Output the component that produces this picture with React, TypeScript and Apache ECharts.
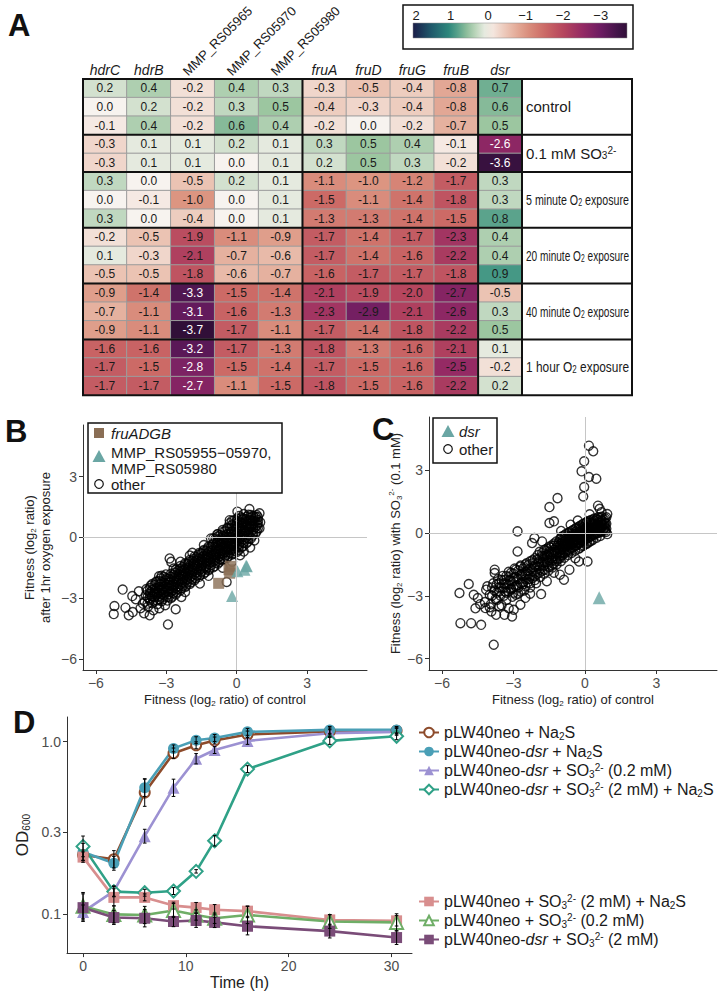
import React, { useEffect, useRef } from 'react';
import * as echarts from 'echarts';

const FONT = "'Liberation Sans', Arial, Helvetica, sans-serif";

// ---------------- Panel A: fitness heatmap ----------------
const GENES = ['hdrC', 'hdrB', 'MMP_RS05965', 'MMP_RS05970', 'MMP_RS05980', 'fruA', 'fruD', 'fruG', 'fruB', 'dsr'];
const GENE_ITALIC = [true, true, false, false, false, true, true, true, true, true];
const CONDITION_LABELS = [
  'control',
  '0.1 mM SO{sub|3}{sup|2-}',
  '5 minute O{sub|2} exposure',
  '20 minute O{sub|2} exposure',
  '40 minute O{sub|2} exposure',
  '1 hour O{sub|2} exposure',
];
const FIT_CONTROL = [
  [0.2, 0.4, -0.2, 0.4, 0.3, -0.3, -0.5, -0.4, -0.8, 0.7],
  [0.0, 0.2, -0.2, 0.3, 0.5, -0.4, -0.3, -0.4, -0.8, 0.6],
  [-0.1, 0.4, -0.2, 0.6, 0.4, -0.2, 0.0, -0.2, -0.7, 0.5],
];
const FIT_SULFITE = [
  [-0.3, 0.1, 0.1, 0.2, 0.1, 0.3, 0.5, 0.4, -0.1, -2.6],
  [-0.3, 0.1, 0.1, 0.0, 0.1, 0.2, 0.5, 0.3, -0.2, -3.6],
];
const FIT_O2_5MIN = [
  [0.3, 0.0, -0.5, 0.2, 0.1, -1.1, -1.0, -1.2, -1.7, 0.3],
  [0.0, -0.1, -1.0, 0.0, 0.1, -1.5, -1.1, -1.4, -1.8, 0.3],
  [0.3, 0.0, -0.4, 0.0, 0.1, -1.3, -1.3, -1.4, -1.5, 0.8],
];
const FIT_O2_20MIN = [
  [-0.2, -0.5, -1.9, -1.1, -0.9, -1.7, -1.4, -1.7, -2.3, 0.4],
  [0.1, -0.3, -2.1, -0.7, -0.6, -1.7, -1.4, -1.6, -2.2, 0.4],
  [-0.5, -0.5, -1.8, -0.6, -0.7, -1.6, -1.7, -1.7, -1.8, 0.9],
];
const FIT_O2_40MIN = [
  [-0.9, -1.4, -3.3, -1.5, -1.4, -2.1, -1.9, -2.0, -2.7, -0.5],
  [-0.7, -1.1, -3.1, -1.6, -1.3, -2.3, -2.9, -2.1, -2.6, 0.3],
  [-0.9, -1.1, -3.7, -1.7, -1.1, -1.7, -1.4, -1.8, -2.2, 0.5],
];
const FIT_O2_1H = [
  [-1.6, -1.6, -3.2, -1.7, -1.3, -1.8, -1.3, -1.6, -2.1, 0.1],
  [-1.7, -1.5, -2.8, -1.5, -1.4, -1.7, -1.5, -1.6, -2.5, -0.2],
  [-1.7, -1.7, -2.7, -1.1, -1.5, -1.8, -1.5, -1.6, -2.2, 0.2],
];
const CONDITION_VALUES = [FIT_CONTROL, FIT_SULFITE, FIT_O2_5MIN, FIT_O2_20MIN, FIT_O2_40MIN, FIT_O2_1H];

// colour scale from -4 to 2, stops every 0.5
const SCALE_MIN = -4;
const SCALE_MAX = 2;
const SCALE_COLORS = [
  '#1e0822', '#3e1346', '#6c1c62', '#952a64', '#b6465e', '#cc6a66', '#dc9581',
  '#ebc3b3', '#f7f3ef', '#9cc6a0', '#2f8c7e', '#1f5b6c', '#1a1d48',
];
const COLORBAR_TICKS = [2, 1, 0, -1, -2, -3];
const COLORBAR_RANGE = [2, -3.7];
const WHITE_TEXT_GENES = ['MMP_RS05965', 'dsr'];

// ---------------- Panel B / C scatter ----------------
const B_OTHER = [
  [-3.92, -3.18], [-3.88, -2.86], [-3.85, -2.55], [-3.78, -3.42], [-3.72, -3.02], [-3.69, -2.71], [-3.66, -2.38],
  [-3.55, -3.12], [-3.52, -2.79], [-3.48, -2.51], [-3.45, -2.2], [-3.38, -3.3], [-3.33, -2.93], [-3.3, -2.62], [-3.27, -2.31], [-3.24, -2.02],
  [-3.15, -3.05], [-3.12, -2.72], [-3.08, -2.44], [-3.05, -2.12], [-3.02, -1.83], [-2.95, -3.12], [-2.91, -2.81], [-2.88, -2.52], [-2.86, -2.21], [-2.82, -1.95],
  [-2.75, -2.93], [-2.72, -2.61], [-2.69, -2.33], [-2.66, -2.04], [-2.63, -1.74], [-2.55, -2.72], [-2.52, -2.42], [-2.49, -2.13], [-2.46, -1.82], [-2.42, -1.55],
  [-2.35, -2.51], [-2.32, -2.22], [-2.29, -1.93], [-2.26, -1.64], [-2.22, -1.36], [-2.15, -2.39], [-2.12, -2.08], [-2.09, -1.79], [-2.06, -1.51], [-2.03, -1.22],
  [-1.95, -2.21], [-1.92, -1.9], [-1.89, -1.62], [-1.86, -1.33], [-1.83, -1.05], [-1.75, -2.02], [-1.72, -1.73], [-1.69, -1.44], [-1.66, -1.16], [-1.63, -0.86],
  [-1.55, -1.84], [-1.52, -1.55], [-1.49, -1.26], [-1.46, -0.97], [-1.43, -0.68], [-1.35, -1.72], [-1.32, -1.43], [-1.29, -1.12], [-1.26, -0.83], [-1.23, -0.54],
  [-1.15, -1.55], [-1.12, -1.24], [-1.09, -0.95], [-1.06, -0.66], [-1.03, -0.37], [-0.95, -1.42], [-0.92, -1.13], [-0.89, -0.82], [-0.86, -0.53], [-0.83, -0.24], [-0.8, 0.05],
  [-0.75, -1.22], [-0.72, -0.93], [-0.69, -0.62], [-0.66, -0.33], [-0.63, -0.04], [-0.6, 0.27], [-0.55, -1.05], [-0.52, -0.74], [-0.49, -0.43], [-0.46, -0.14], [-0.43, 0.17], [-0.4, 0.47],
  [-0.35, -0.92], [-0.32, -0.61], [-0.29, -0.31], [-0.26, -0.02], [-0.23, 0.29], [-0.2, 0.58], [-0.15, -0.81], [-0.12, -0.52], [-0.09, -0.21], [-0.06, 0.11], [-0.03, 0.41], [0.0, 0.7], [0.02, 0.93],
  [0.08, -0.63], [0.11, -0.32], [0.14, -0.02], [0.17, 0.31], [0.2, 0.6], [0.23, 0.88], [0.28, -0.42], [0.31, -0.11], [0.34, 0.19], [0.37, 0.49], [0.4, 0.79], [0.43, 1.02],
  [0.48, -0.21], [0.51, 0.1], [0.54, 0.41], [0.57, 0.69], [0.6, 0.98], [0.68, 0.08], [0.71, 0.39], [0.74, 0.68], [0.77, 0.95], [0.85, 0.31], [0.88, 0.62], [0.9, 0.86],
  [-0.62, -0.78], [-0.41, -0.58], [-0.22, -0.4], [-0.05, -0.3], [0.05, 0.05], [0.15, 0.45], [0.25, 0.68], [0.35, 0.35], [0.45, 0.6], [0.62, 0.55], [0.66, 0.82], [0.02, -0.05],
  [-0.18, 0.12], [-0.38, -0.2], [-0.58, -0.45], [-0.78, -0.6], [-0.98, -0.85], [-1.18, -0.98], [-1.38, -1.05], [-1.58, -1.2], [-1.78, -1.38], [-1.98, -1.62], [-2.18, -1.75],
  [-2.38, -1.9], [-2.58, -2.1], [-2.78, -2.35], [-2.98, -2.48], [-3.18, -2.6], [-3.4, -2.75], [-3.6, -2.9],
  [-3.8, -3.27], [-3.8, -2.95], [-3.8, -2.62], [-3.6, -3.25], [-3.6, -2.92], [-3.6, -2.6], [-3.6, -2.3], [-3.4, -3.12], [-3.4, -2.82], [-3.4, -2.5], [-3.4, -2.18],
  [-3.2, -3.15], [-3.2, -2.82], [-3.2, -2.52], [-3.2, -2.2], [-3.2, -1.9], [-3.0, -2.95], [-3.0, -2.64], [-3.0, -2.33], [-3.0, -2.02],
  [-2.8, -3.0], [-2.8, -2.68], [-2.8, -2.38], [-2.8, -2.08], [-2.8, -1.8], [-2.6, -2.82], [-2.6, -2.5], [-2.6, -2.2], [-2.6, -1.9], [-2.6, -1.6],
  [-2.4, -2.62], [-2.4, -2.32], [-2.4, -2.02], [-2.4, -1.7], [-2.4, -1.42], [-2.2, -2.45], [-2.2, -2.15], [-2.2, -1.85], [-2.2, -1.55], [-2.2, -1.28],
  [-2.0, -2.3], [-2.0, -2.0], [-2.0, -1.7], [-2.0, -1.4], [-2.0, -1.12], [-1.8, -2.12], [-1.8, -1.82], [-1.8, -1.52], [-1.8, -1.22], [-1.8, -0.94],
  [-1.6, -1.95], [-1.6, -1.65], [-1.6, -1.35], [-1.6, -1.05], [-1.6, -0.77], [-1.4, -1.8], [-1.4, -1.5], [-1.4, -1.2], [-1.4, -0.9], [-1.4, -0.62],
  [-1.2, -1.62], [-1.2, -1.32], [-1.2, -1.02], [-1.2, -0.72], [-1.2, -0.45], [-1.0, -1.48], [-1.0, -1.18], [-1.0, -0.88], [-1.0, -0.58], [-1.0, -0.3], [-1.0, -0.05],
  [-0.8, -1.3], [-0.8, -1.0], [-0.8, -0.7], [-0.8, -0.4], [-0.8, -0.12], [-0.8, 0.16], [-0.6, -1.12], [-0.6, -0.85], [-0.6, -0.55], [-0.6, -0.25], [-0.6, 0.06], [-0.6, 0.36],
  [-0.4, -1.0], [-0.4, -0.72], [-0.4, -0.45], [-0.4, -0.15], [-0.4, 0.14], [-0.4, 0.44], [-0.2, -0.85], [-0.2, -0.6], [-0.2, -0.3], [-0.2, 0.0], [-0.2, 0.3], [-0.2, 0.62], [-0.2, 0.82],
  [0.0, -0.72], [0.0, -0.42], [0.0, -0.12], [0.0, 0.2], [0.0, 0.5], [0.0, 0.8], [0.2, -0.5], [0.2, -0.2], [0.2, 0.1], [0.2, 0.42], [0.2, 0.72], [0.2, 0.98],
  [0.4, -0.3], [0.4, 0.0], [0.4, 0.3], [0.4, 0.62], [0.4, 0.9], [0.6, -0.05], [0.6, 0.25], [0.6, 0.55], [0.6, 0.84], [0.6, 1.1], [0.8, 0.2], [0.8, 0.5], [0.8, 0.78], [0.8, 1.02],
  [-3.7, -3.1], [-3.7, -2.8], [-3.7, -2.5], [-3.5, -2.95], [-3.5, -2.65], [-3.5, -2.35], [-3.3, -3.05], [-3.3, -2.75], [-3.3, -2.45], [-3.3, -2.15],
  [-3.1, -2.85], [-3.1, -2.55], [-3.1, -2.25], [-3.1, -1.95], [-2.9, -2.95], [-2.9, -2.65], [-2.9, -2.35], [-2.9, -2.05],
  [-2.7, -2.75], [-2.7, -2.45], [-2.7, -2.15], [-2.7, -1.85], [-2.5, -2.55], [-2.5, -2.25], [-2.5, -1.95], [-2.5, -1.65],
  [-2.3, -2.4], [-2.3, -2.08], [-2.3, -1.78], [-2.3, -1.48], [-2.1, -2.22], [-2.1, -1.92], [-2.1, -1.62], [-2.1, -1.32],
  [-1.9, -2.05], [-1.9, -1.75], [-1.9, -1.45], [-1.9, -1.15], [-1.7, -1.88], [-1.7, -1.58], [-1.7, -1.28], [-1.7, -0.98],
  [-1.5, -1.7], [-1.5, -1.4], [-1.5, -1.1], [-1.5, -0.8], [-1.3, -1.55], [-1.3, -1.25], [-1.3, -0.95], [-1.3, -0.65],
  [-1.1, -1.38], [-1.1, -1.08], [-1.1, -0.78], [-1.1, -0.48], [-0.9, -1.25], [-0.9, -0.95], [-0.9, -0.65], [-0.9, -0.35], [-0.9, -0.05],
  [-0.7, -1.08], [-0.7, -0.78], [-0.7, -0.48], [-0.7, -0.18], [-0.7, 0.12], [-0.5, -0.9], [-0.5, -0.6], [-0.5, -0.3], [-0.5, 0.0], [-0.5, 0.3],
  [-0.3, -0.75], [-0.3, -0.45], [-0.3, -0.15], [-0.3, 0.15], [-0.3, 0.45], [-0.3, 0.7], [-0.1, -0.65], [-0.1, -0.35], [-0.1, -0.05], [-0.1, 0.25], [-0.1, 0.55], [-0.1, 0.85],
  [0.1, -0.45], [0.1, -0.15], [0.1, 0.15], [0.1, 0.45], [0.1, 0.75], [0.1, 1.05], [0.3, -0.25], [0.3, 0.05], [0.3, 0.35], [0.3, 0.65], [0.3, 0.92],
  [0.5, -0.05], [0.5, 0.25], [0.5, 0.55], [0.5, 0.85], [0.5, 1.12], [0.7, 0.22], [0.7, 0.52], [0.7, 0.82], [0.7, 1.05], [0.9, 0.45], [0.9, 0.72], [0.9, 1.0],
  [-4.86, -2.58], [-5.21, -3.39], [-5.24, -3.79], [-4.74, -3.47], [-4.6, -3.85], [-4.43, -3.69], [-4.17, -2.66], [-3.71, -3.85], [-2.93, -4.3], [-2.6, -3.55],
  [-2.86, -1.04], [-2.79, -1.21], [-2.69, -1.54], [-3.31, -1.92], [-1.89, -0.76], [-1.4, -0.38], [-0.83, 0.15], [0.03, 1.27], [0.54, 1.4], [0.97, 1.19],
  [0.97, 0.45], [0.57, -0.5], [0.14, -0.88], [-1.57, -2.28], [-0.43, -2.2], [-2.36, -2.94], [-4.0, -3.27],
  [-4.3, -3.05], [-4.1, -3.5], [-3.95, -3.75], [-3.55, -3.6], [-4.45, -2.9], [-3.3, -3.5], [-3.05, -3.35], [-2.2, -2.7], [-1.2, -1.9], [-0.6, -1.5],
  [-0.2, -1.2], [0.3, -0.7], [0.75, -0.15], [1.0, 0.75], [0.85, 1.1], [0.3, 1.15], [-0.3, 0.85], [-1.1, -0.05], [-2.0, -0.9], [-2.4, -1.2],
];
const B_FRU = [[-0.3, -1.77], [-0.27, -1.43], [-0.33, -1.6], [-0.77, -2.27]];
const B_MMP = [[0.03, -1.67], [0.33, -1.6], [-0.2, -2.9], [0.43, -1.43], [0.4, -1.4]];

const C_OTHER = [
  [-4.2, -3.3], [-4.1, -2.55], [-4.0, -2.95], [-3.95, -3.4], [-3.85, -2.4], [-3.8, -2.75], [-3.75, -3.15], [-3.65, -2.2], [-3.6, -2.6], [-3.55, -3.0],
  [-3.5, -3.45], [-3.45, -2.05], [-3.4, -2.4], [-3.35, -2.8], [-3.3, -3.2], [-3.2, -1.85], [-3.15, -2.25], [-3.1, -2.65], [-3.05, -3.05], [-2.95, -1.7],
  [-2.9, -2.1], [-2.85, -2.5], [-2.8, -2.9], [-2.7, -1.55], [-2.65, -1.95], [-2.6, -2.35], [-2.55, -2.75], [-2.45, -1.45], [-2.4, -1.8], [-2.35, -2.2],
  [-2.3, -2.6], [-2.2, -1.3], [-2.15, -1.65], [-2.1, -2.05], [-2.05, -2.4],
  [-1.98, -1.05], [-1.95, -1.4], [-1.92, -1.75], [-1.88, -2.1], [-1.8, -0.95], [-1.77, -1.28], [-1.74, -1.6], [-1.71, -1.95], [-1.62, -0.85], [-1.59, -1.15],
  [-1.56, -1.48], [-1.53, -1.8], [-1.45, -0.7], [-1.42, -1.0], [-1.39, -1.32], [-1.36, -1.65], [-1.28, -0.6], [-1.25, -0.9], [-1.22, -1.2], [-1.19, -1.5],
  [-1.1, -0.45], [-1.07, -0.75], [-1.04, -1.05], [-1.01, -1.35],
  [-0.95, -0.35], [-0.92, -0.62], [-0.89, -0.9], [-0.86, -1.18], [-0.8, -0.25], [-0.77, -0.52], [-0.74, -0.8], [-0.71, -1.05], [-0.65, -0.15], [-0.62, -0.42],
  [-0.59, -0.7], [-0.56, -0.95], [-0.5, -0.05], [-0.47, -0.32], [-0.44, -0.6], [-0.41, -0.85], [-0.35, 0.08], [-0.32, -0.2], [-0.29, -0.48], [-0.26, -0.75],
  [-0.2, 0.2], [-0.17, -0.08], [-0.14, -0.36], [-0.11, -0.62], [-0.05, 0.3], [-0.02, 0.02], [0.01, -0.26], [0.04, -0.52], [0.1, 0.4], [0.13, 0.12],
  [0.16, -0.16], [0.19, -0.42], [0.25, 0.5], [0.28, 0.22], [0.31, -0.06], [0.34, -0.32], [0.4, 0.58], [0.43, 0.3], [0.46, 0.02], [0.49, -0.22],
  [0.55, 0.62], [0.58, 0.36], [0.61, 0.1], [0.64, -0.14], [0.7, 0.6], [0.73, 0.38], [0.76, 0.14], [0.82, 0.5], [0.85, 0.26], [0.88, 0.05],
  [-0.9, -0.5], [-0.7, -0.3], [-0.5, -0.5], [-0.3, -0.1], [-0.1, 0.1], [0.05, -0.1], [0.2, 0.25], [0.35, 0.15], [0.5, 0.4], [0.65, 0.25],
  [0.3, 0.45], [-0.15, -0.25], [-0.6, -0.55], [-1.3, -1.1], [-1.5, -0.9], [-1.7, -1.4], [-2.5, -2.0], [-3.0, -2.3], [-3.7, -2.85],
  [-3.9, -2.6], [-3.9, -3.0], [-3.7, -2.45], [-3.7, -3.2], [-3.5, -2.25], [-3.5, -2.62], [-3.3, -2.05], [-3.3, -2.45], [-3.3, -2.85],
  [-3.1, -1.9], [-3.1, -2.3], [-3.1, -2.7], [-2.9, -1.75], [-2.9, -2.55], [-2.9, -2.95], [-2.7, -1.6], [-2.7, -2.0], [-2.7, -2.4], [-2.7, -2.8],
  [-2.5, -1.5], [-2.5, -1.85], [-2.5, -2.2], [-2.5, -2.55], [-2.3, -1.35], [-2.3, -1.7], [-2.3, -2.05], [-2.3, -2.4], [-2.1, -1.2], [-2.1, -1.55], [-2.1, -1.9], [-2.1, -2.25],
  [-1.9, -0.9], [-1.9, -1.22], [-1.9, -1.55], [-1.9, -1.9], [-1.7, -0.8], [-1.7, -1.1], [-1.7, -1.75], [-1.5, -0.65], [-1.5, -0.98], [-1.5, -1.3], [-1.5, -1.62],
  [-1.3, -0.5], [-1.3, -0.8], [-1.3, -1.45], [-1.15, -0.6], [-1.15, -0.92], [-1.15, -1.25], [-1.0, -0.2], [-1.0, -0.5], [-1.0, -0.8], [-1.0, -1.1],
  [-0.85, -0.1], [-0.85, -0.4], [-0.85, -0.7], [-0.85, -0.98], [-0.7, 0.0], [-0.7, -0.58], [-0.7, -0.88], [-0.55, 0.1], [-0.55, -0.18], [-0.55, -0.45], [-0.55, -0.75],
  [-0.4, 0.22], [-0.4, -0.05], [-0.4, -0.35], [-0.4, -0.62], [-0.25, 0.3], [-0.25, 0.05], [-0.25, -0.22], [-0.25, -0.5], [-0.1, 0.42], [-0.1, 0.15], [-0.1, -0.12], [-0.1, -0.4],
  [0.05, 0.5], [0.05, 0.25], [0.05, -0.3], [0.2, 0.58], [0.2, 0.06], [0.2, -0.2], [0.35, 0.65], [0.35, 0.42], [0.35, -0.1],
  [0.5, 0.68], [0.5, 0.22], [0.5, -0.02], [0.65, 0.72], [0.65, 0.5], [0.65, 0.05], [0.8, 0.65], [0.8, 0.4], [0.8, 0.18], [0.9, 0.45], [0.9, 0.2],
  [-1.6, -0.75], [-1.6, -1.05], [-1.6, -1.4], [-1.4, -0.6], [-1.4, -0.9], [-1.4, -1.2], [-1.4, -1.55], [-1.2, -0.4], [-1.2, -0.7], [-1.2, -1.0], [-1.2, -1.35],
  [-1.05, -0.3], [-1.05, -0.62], [-1.05, -0.95], [-1.05, -1.2], [-0.95, -0.15], [-0.95, -0.45], [-0.95, -0.75], [-0.95, -1.05],
  [-0.8, -0.05], [-0.8, -0.35], [-0.8, -0.62], [-0.8, -0.9], [-0.65, 0.05], [-0.65, -0.25], [-0.65, -0.5], [-0.65, -0.8],
  [-0.5, 0.15], [-0.5, -0.12], [-0.5, -0.4], [-0.5, -0.68], [-0.35, 0.25], [-0.35, -0.02], [-0.35, -0.3], [-0.35, -0.58],
  [-0.2, 0.35], [-0.2, 0.08], [-0.2, -0.18], [-0.2, -0.45], [-0.2, -0.7], [-0.05, 0.45], [-0.05, 0.18], [-0.05, -0.08], [-0.05, -0.35], [-0.05, -0.6],
  [0.1, 0.55], [0.1, 0.28], [0.1, 0.0], [0.1, -0.25], [0.1, -0.5], [0.25, 0.62], [0.25, 0.36], [0.25, 0.1], [0.25, -0.15], [0.25, -0.38],
  [0.4, 0.7], [0.4, 0.45], [0.4, 0.18], [0.4, -0.05], [0.55, 0.75], [0.55, 0.5], [0.55, 0.25], [0.55, 0.0],
  [0.7, 0.78], [0.7, 0.52], [0.7, 0.3], [0.7, 0.08], [0.85, 0.7], [0.85, 0.45], [0.85, 0.12],
  [-3.6, -2.4], [-3.6, -2.8], [-3.4, -2.25], [-3.4, -2.62], [-3.4, -3.0], [-3.2, -2.1], [-3.2, -2.45], [-3.2, -2.8],
  [-3.0, -1.95], [-3.0, -2.15], [-3.0, -2.6], [-3.0, -2.85], [-2.8, -1.8], [-2.8, -2.2], [-2.8, -2.6], [-2.6, -1.7], [-2.6, -2.05], [-2.6, -2.45],
  [-2.4, -1.55], [-2.4, -1.95], [-2.4, -2.35], [-2.2, -1.45], [-2.2, -1.8], [-2.2, -2.15], [-2.0, -1.25], [-2.0, -1.6], [-2.0, -1.95], [-1.8, -1.1], [-1.8, -1.45], [-1.8, -1.8],
  [0.17, 4.18], [0.35, 3.91], [-0.03, 3.43], [-0.14, 2.95], [0.17, 2.68], [0.48, 2.6], [-0.03, 2.2], [-0.07, 1.75], [-1.15, 1.67], [-1.49, 1.24],
  [0.55, 1.31], [0.62, 1.16], [0.94, 0.91], [-2.83, 0.08], [-2.83, -0.88], [-2.22, -0.48], [-2.12, -0.24], [-1.49, 0.48], [-1.3, 0.56], [-3.79, -1.75],
  [-3.79, -1.91], [-4.88, -2.44], [-5.27, -2.87], [-4.67, -2.95], [-4.5, -3.11], [-4.15, -2.71], [-5.23, -4.31], [-4.78, -4.31], [-4.36, -4.39], [-3.83, -5.34],
  [-4.18, -3.59], [-3.93, -3.75], [-3.73, -3.91], [-3.38, -3.91], [-3.06, -3.99], [-2.99, -3.67], [-2.71, -3.43], [-1.84, -2.92], [-1.05, -1.99], [-0.88, -2.23],
  [-0.65, -1.75], [-0.25, -1.36], [0.11, -1.36], [0.94, -0.05],
  [-4.4, -3.4], [-4.6, -3.6], [-4.0, -3.55], [-3.6, -3.5], [-3.2, -3.6], [-2.5, -3.1], [-2.3, -2.9], [-1.6, -2.3], [-1.3, -1.9], [-0.4, -1.2],
  [-1.8, -0.4], [-1.0, 0.1], [-0.6, 0.4], [-0.3, 0.6], [0.2, 0.9], [0.7, 1.0], [0.9, 0.75],
];
const C_DSR = [[0.6, -3.1]];
const FITNESS_TICKS = [-6, -3, 0, 3];
const FITNESS_RANGE = [-6.55, 5.55];

// ---------------- Panel D: growth curves ----------------
const TIME_H = [0, 3, 6, 8.8, 11, 12.8, 16, 24, 30.5];
const OD_EMPTY_NA2S = [0.22, 0.208, 0.507, 0.857, 0.953, 1.016, 1.1, 1.146, 1.157];
const OD_DSR_NA2S = [0.229, 0.197, 0.54, 0.914, 1.02, 1.05, 1.14, 1.17, 1.17];
const OD_DSR_SO3_LOW = [0.103, 0.136, 0.283, 0.54, 0.796, 0.894, 1.01, 1.12, 1.14];
const OD_DSR_SO3_HIGH_NA2S = [0.247, 0.135, 0.133, 0.136, 0.177, 0.266, 0.693, 1.01, 1.075];
const OD_EMPTY_SO3_HIGH_NA2S = [0.214, 0.125, 0.125, 0.112, 0.109, 0.106, 0.104, 0.0925, 0.0914];
const OD_EMPTY_SO3_LOW = [0.111, 0.0996, 0.0988, 0.105, 0.0988, 0.0946, 0.0988, 0.0906, 0.0895];
const OD_DSR_SO3_HIGH = [0.109, 0.0955, 0.0946, 0.0906, 0.0918, 0.0895, 0.085, 0.0797, 0.0731];
// error half-widths, log10 units
const ERR_EMPTY_NA2S = [0.03, 0.05, 0.08, 0.03, 0.02, 0.02, 0.02, 0.02, 0.02];
const ERR_DSR_NA2S = [0.05, 0.04, 0.05, 0.02, 0.02, 0.02, 0.02, 0.02, 0.02];
const ERR_DSR_SO3_LOW = [0.04, 0.03, 0.04, 0.05, 0.03, 0.02, 0.02, 0.02, 0.02];
const ERR_DSR_SO3_HIGH_NA2S = [0.06, 0.03, 0.02, 0.02, 0.01, 0.03, 0.02, 0.02, 0.02];
const ERR_EMPTY_SO3_HIGH_NA2S = [0.03, 0.05, 0.02, 0.02, 0.03, 0.03, 0.03, 0.03, 0.03];
const ERR_EMPTY_SO3_LOW = [0.08, 0.05, 0.05, 0.04, 0.03, 0.03, 0.05, 0.04, 0.05];
const ERR_DSR_SO3_HIGH = [0.08, 0.04, 0.05, 0.03, 0.04, 0.03, 0.05, 0.04, 0.04];
const OD_TICKS = [0.1, 0.3, 1.0];
const TIME_TICKS = [0, 10, 20, 30];
const OD_RANGE = [0.0594, 1.39];
const TIME_RANGE = [-1.56, 32];

const D_SERIES = [
  { name: 'pLW40neo + Na2S', label: 'pLW40neo + Na{sub|2}S', od: OD_EMPTY_NA2S, err: ERR_EMPTY_NA2S, color: '#8d4b2b', symbol: 'emptyCircle', size: 10 },
  { name: 'pLW40neo-dsr + Na2S', label: 'pLW40neo-{i|dsr} + Na{sub|2}S', od: OD_DSR_NA2S, err: ERR_DSR_NA2S, color: '#4a9fb6', symbol: 'circle', size: 11 },
  { name: 'pLW40neo-dsr + SO3 (0.2 mM)', label: 'pLW40neo-{i|dsr} + SO{sub|3}{sup|2-} (0.2 mM)', od: OD_DSR_SO3_LOW, err: ERR_DSR_SO3_LOW, color: '#9c91d2', symbol: 'triangle', size: 12 },
  { name: 'pLW40neo-dsr + SO3 (2 mM) + Na2S', label: 'pLW40neo-{i|dsr} + SO{sub|3}{sup|2-} (2 mM) + Na{sub|2}S', od: OD_DSR_SO3_HIGH_NA2S, err: ERR_DSR_SO3_HIGH_NA2S, color: '#2fa187', symbol: 'emptyDiamond', size: 13 },
  { name: 'pLW40neo + SO3 (2 mM) + Na2S', label: 'pLW40neo + SO{sub|3}{sup|2-} (2 mM) + Na{sub|2}S', od: OD_EMPTY_SO3_HIGH_NA2S, err: ERR_EMPTY_SO3_HIGH_NA2S, color: '#d88e8e', symbol: 'rect', size: 11 },
  { name: 'pLW40neo + SO3 (0.2 mM)', label: 'pLW40neo + SO{sub|3}{sup|2-} (0.2 mM)', od: OD_EMPTY_SO3_LOW, err: ERR_EMPTY_SO3_LOW, color: '#6fae67', symbol: 'emptyTriangle', size: 13 },
  { name: 'pLW40neo-dsr + SO3 (2 mM)', label: 'pLW40neo-{i|dsr} + SO{sub|3}{sup|2-} (2 mM)', od: OD_DSR_SO3_HIGH, err: ERR_DSR_SO3_HIGH, color: '#7a4c78', symbol: 'rect', size: 11 },
];

// ---------------- layout ----------------
const HM_LEFT = 83;
const HM_TOP = 79;
const COL_W = 43.9;
const ROW_H = 18.6;
const LABEL_RIGHT = 632;
const ROW_LABEL_SIZE = 15;

const minus = (v: number) => String(v).replace('-', '\u2212');

function measure(s: string, size: number) {
  try {
    const ctx = document.createElement('canvas').getContext('2d') as CanvasRenderingContext2D;
    ctx.font = `${size}px ${FONT}`;
    return ctx.measureText(s).width;
  } catch (e) {
    return s.length * size * 0.5;
  }
}
function richWidth(markup: string, size: number, small: number) {
  let w = 0;
  const re = /\{(\w+)\|([^}]*)\}|([^{]+)/g;
  let m: RegExpExecArray | null;
  while ((m = re.exec(markup))) {
    if (m[3]) w += measure(m[3], size);
    else w += measure(m[2], small);
  }
  return w;
}

function txt(text: string, x: number, y: number, extra: any = {}, el: any = {}) {
  const align = extra.align || 'left';
  const valign = extra.verticalAlign || 'middle';
  return {
    type: 'text', x, y, z: 60, silent: true, ...el,
    style: {
      text, fill: '#1a1a1a', fontFamily: FONT, fontSize: 13,
      ...extra, align, verticalAlign: valign, textAlign: align, textVerticalAlign: valign,
    },
  };
}
const hline = (x1: number, x2: number, y: number, w = 2, c = '#111') => ({ type: 'line', z: 55, silent: true, shape: { x1, y1: y, x2, y2: y }, style: { stroke: c, lineWidth: w } });
const vline = (x: number, y1: number, y2: number, w = 2, c = '#111') => ({ type: 'line', z: 55, silent: true, shape: { x1: x, y1, x2: x, y2 }, style: { stroke: c, lineWidth: w } });

function buildGraphic() {
  const g: any[] = [];
  const letter = (t: string, x: number, y: number) => txt(t, x, y, { fontSize: 31, fontWeight: 'bold', fill: '#111', verticalAlign: 'top' });
  g.push(letter('A', 8, 10), letter('B', 5, 416), letter('C', 372, 414), letter('D', 13, 707));

  // colour bar legend
  g.push({ type: 'rect', z: 50, silent: true, shape: { x: 403, y: 5, width: 230, height: 44 }, style: { fill: '#fff', stroke: '#111', lineWidth: 1.5 } });
  const barX = 413, barW = 214, span = COLORBAR_RANGE[0] - COLORBAR_RANGE[1];
  const stops: any[] = [];
  for (let i = 0; i <= 24; i++) {
    const v = COLORBAR_RANGE[0] - (span * i) / 24;
    stops.push({ offset: i / 24, color: echarts.color.lerp((v - SCALE_MIN) / (SCALE_MAX - SCALE_MIN), SCALE_COLORS) });
  }
  g.push({ type: 'rect', z: 51, silent: true, shape: { x: barX, y: 23, width: barW, height: 15 },
    style: { fill: new echarts.graphic.LinearGradient(0, 0, 1, 0, stops), stroke: '#888', lineWidth: 0.5 } });
  COLORBAR_TICKS.forEach((t) => {
    const x = barX + ((COLORBAR_RANGE[0] - t) / span) * barW + (t === 2 ? 3 : 0);
    g.push(txt(minus(t), x, 15, { align: 'center', fontSize: 13 }));
  });

  // column headers
  GENES.forEach((gene, c) => {
    const cx = HM_LEFT + (c + 0.5) * COL_W;
    if (GENE_ITALIC[c]) {
      g.push(txt(gene, cx, HM_TOP - 9, { align: 'center', fontSize: 14, fontStyle: 'italic' }));
    } else {
      g.push(txt(gene, cx - 3, HM_TOP - 1, { align: 'left', verticalAlign: 'bottom', fontSize: 13 }, { rotation: Math.PI / 4 }));
    }
  });

  // table frame, group separators and row labels
  const dataRight = HM_LEFT + GENES.length * COL_W;
  let nRows = 0;
  CONDITION_VALUES.forEach((rows) => (nRows += rows.length));
  const bottom = HM_TOP + nRows * ROW_H;
  const maxLabelW = LABEL_RIGHT - dataRight - 7;
  let start = 0;
  g.push(hline(HM_LEFT - 1, LABEL_RIGHT + 1, HM_TOP));
  CONDITION_VALUES.forEach((rows, k) => {
    const yTop = HM_TOP + start * ROW_H;
    const yMid = yTop + (rows.length * ROW_H) / 2;
    const w = richWidth(CONDITION_LABELS[k], ROW_LABEL_SIZE, 10);
    const sx = Math.min(1, maxLabelW / w);
    g.push(txt(CONDITION_LABELS[k], dataRight + 4, yMid, {
      fontSize: ROW_LABEL_SIZE,
      rich: { sub: { fontSize: 10, verticalAlign: 'bottom' }, sup: { fontSize: 10, verticalAlign: 'top' } },
    }, { scaleX: sx }));
    start += rows.length;
    g.push(hline(HM_LEFT - 1, LABEL_RIGHT + 1, HM_TOP + start * ROW_H));
  });
  [0, 5, 9, 10].forEach((c) => g.push(vline(HM_LEFT + c * COL_W, HM_TOP, bottom)));
  g.push(vline(LABEL_RIGHT, HM_TOP, bottom));

  // legend of panel B
  g.push({ type: 'rect', z: 50, silent: true, shape: { x: 88, y: 423, width: 194, height: 70 }, style: { fill: '#fff', stroke: '#111', lineWidth: 1.5 } });
  g.push({ type: 'rect', z: 51, silent: true, shape: { x: 94, y: 428, width: 10, height: 10 }, style: { fill: '#8a6e55' } });
  g.push(txt('fruADGB', 111, 433, { fontSize: 15, fontStyle: 'italic' }));
  g.push({ type: 'polygon', z: 51, silent: true, shape: { points: [[99, 450], [92.5, 462], [105.5, 462]] }, style: { fill: '#6aa6a4' } });
  g.push(txt('MMP_RS05955\u221205970,', 111, 452, { fontSize: 15 }));
  g.push(txt('MMP_RS05980', 111, 468, { fontSize: 15 }));
  g.push({ type: 'circle', z: 51, silent: true, shape: { cx: 99, cy: 484, r: 4.3 }, style: { fill: 'none', stroke: '#111', lineWidth: 1.2 } });
  g.push(txt('other', 111, 484, { fontSize: 15 }));

  // legend of panel C
  g.push({ type: 'rect', z: 50, silent: true, shape: { x: 433, y: 418, width: 64, height: 45 }, style: { fill: '#fff', stroke: '#111', lineWidth: 1.5 } });
  g.push({ type: 'polygon', z: 51, silent: true, shape: { points: [[448, 425], [441.5, 437], [454.5, 437]] }, style: { fill: '#6aa6a4' } });
  g.push(txt('dsr', 459, 431, { fontSize: 15, fontStyle: 'italic' }));
  g.push({ type: 'circle', z: 51, silent: true, shape: { cx: 448, cy: 449, r: 4.3 }, style: { fill: 'none', stroke: '#111', lineWidth: 1.2 } });
  g.push(txt('other', 459, 449, { fontSize: 15 }));
  return g;
}

function fitnessAxis(gridIndex: number, name: string, nameGap: number) {
  return {
    type: 'value', gridIndex, min: FITNESS_RANGE[0], max: FITNESS_RANGE[1],
    axisLine: { show: true, onZero: false, lineStyle: { color: '#333', width: 1 } },
    axisTick: { show: true, length: 4, customValues: FITNESS_TICKS, lineStyle: { color: '#333' } },
    axisLabel: { customValues: FITNESS_TICKS, formatter: (v: number) => minus(v), color: '#4d4d4d', fontSize: 14, margin: 6, fontFamily: FONT },
    splitLine: { show: false },
    name, nameLocation: 'middle', nameGap,
    nameTextStyle: { fontSize: 13, color: '#222', fontFamily: FONT, lineHeight: 16, rich: { sub: { fontSize: 8, verticalAlign: 'bottom' }, sup: { fontSize: 8, verticalAlign: 'top' } } },
  };
}

function zeroLines(ax: number) {
  return {
    type: 'scatter', xAxisIndex: ax, yAxisIndex: ax, data: [], silent: true, z: 1,
    markLine: { silent: true, symbol: ['none', 'none'], label: { show: false }, animation: false,
      lineStyle: { color: '#c6c6c6', width: 1, type: 'solid' }, data: [{ xAxis: 0 }, { yAxis: 0 }] },
  };
}

const openCircle = { color: 'rgba(0,0,0,0)', borderColor: '#000', borderWidth: 1.4 };

function buildOption() {
  const heatData: any[] = [];
  let r = 0;
  CONDITION_VALUES.forEach((rows) => rows.forEach((row) => {
    row.forEach((v, c) => {
      const white = WHITE_TEXT_GENES.includes(GENES[c]) && v <= -2.6;
      heatData.push({ value: [c, r, v], label: { color: white ? '#ffffff' : '#1a1a1a' } });
    });
    r++;
  }));
  const rowIds = Array.from({ length: r }, (_, i) => String(i));

  const dLines = D_SERIES.map((s) => ({
    type: 'line', name: s.name, xAxisIndex: 3, yAxisIndex: 3,
    data: TIME_H.map((t, i) => [t, Math.log10(s.od[i])]),
    symbol: s.symbol, symbolSize: s.size, z: 3,
    lineStyle: { color: s.color, width: 2.6 },
    itemStyle: { color: s.color, borderColor: s.color, borderWidth: s.symbol.startsWith('empty') ? 1.6 : 0 },
  }));
  const errData: any[] = [];
  D_SERIES.forEach((s) => TIME_H.forEach((t, i) => {
    const c = Math.log10(s.od[i]);
    errData.push([t, c - s.err[i], c + s.err[i]]);
  }));

  const legendRich = { i: { fontStyle: 'italic', fontSize: 16 }, sub: { fontSize: 10, verticalAlign: 'bottom' }, sup: { fontSize: 10, verticalAlign: 'top' } };
  const labelOf = (name: string) => (D_SERIES.find((s) => s.name === name) as any).label;
  const legendBase = {
    orient: 'vertical', left: 413, itemGap: 2, itemWidth: 20, itemHeight: 12, selectedMode: false,
    formatter: labelOf,
    textStyle: { fontSize: 16, color: '#1a1a1a', fontFamily: FONT, lineHeight: 17, rich: legendRich },
  };

  return {
    animation: false,
    backgroundColor: '#ffffff',
    textStyle: { fontFamily: FONT },
    graphic: { elements: buildGraphic() },
    legend: [
      { ...legendBase, top: 719, data: D_SERIES.slice(0, 4).map((s) => s.name) },
      { ...legendBase, top: 888, data: D_SERIES.slice(4).map((s) => s.name) },
    ],
    visualMap: { type: 'continuous', show: false, seriesIndex: 0, min: SCALE_MIN, max: SCALE_MAX, inRange: { color: SCALE_COLORS } },
    grid: [
      { left: HM_LEFT, top: HM_TOP, width: GENES.length * COL_W, height: r * ROW_H },
      { left: 83, top: 425, width: 284, height: 245 },
      { left: 429, top: 417, width: 288, height: 253 },
      { left: 67, top: 717, width: 345, height: 244 },
    ],
    xAxis: [
      { type: 'category', gridIndex: 0, data: GENES, show: false },
      fitnessAxis(1, 'Fitness (log{sub|2} ratio) of control', 21),
      fitnessAxis(2, 'Fitness (log{sub|2} ratio) of control', 21),
      {
        type: 'value', gridIndex: 3, min: TIME_RANGE[0], max: TIME_RANGE[1],
        axisLine: { show: true, onZero: false, lineStyle: { color: '#333' } },
        axisTick: { show: true, length: 4, customValues: TIME_TICKS, lineStyle: { color: '#333' } },
        axisLabel: { customValues: TIME_TICKS, color: '#4d4d4d', fontSize: 14, margin: 6 },
        splitLine: { show: false },
        name: 'Time (h)', nameLocation: 'middle', nameGap: 13, nameTextStyle: { fontSize: 16, color: '#222' },
      },
    ],
    yAxis: [
      { type: 'category', gridIndex: 0, data: rowIds, inverse: true, show: false },
      fitnessAxis(1, 'Fitness (log{sub|2} ratio)\nafter 1hr oxygen exposure', 30),
      fitnessAxis(2, 'Fitness (log{sub|2} ratio) with SO{sub|3}{sup|2-} (0.1 mM)', 26),
      {
        type: 'value', gridIndex: 3, min: Math.log10(OD_RANGE[0]), max: Math.log10(OD_RANGE[1]),
        axisLine: { show: true, onZero: false, lineStyle: { color: '#333' } },
        axisTick: { show: true, length: 4, customValues: OD_TICKS.map((v) => Math.log10(v)), lineStyle: { color: '#333' } },
        axisLabel: { customValues: OD_TICKS.map((v) => Math.log10(v)), formatter: (v: number) => Math.pow(10, v).toFixed(1), color: '#4d4d4d', fontSize: 14, margin: 6 },
        splitLine: { show: false },
        name: 'OD{sub|600}', nameLocation: 'middle', nameGap: 36,
        nameTextStyle: { fontSize: 17, color: '#222', rich: { sub: { fontSize: 10, verticalAlign: 'bottom' } } },
      },
    ],
    series: [
      {
        type: 'heatmap', xAxisIndex: 0, yAxisIndex: 0, data: heatData, z: 2,
        itemStyle: { borderColor: '#9c9c9c', borderWidth: 1 },
        label: { show: true, fontSize: 12, fontFamily: FONT, formatter: (p: any) => p.value[2].toFixed(1) },
        emphasis: { disabled: true },
      },
      zeroLines(1),
      { type: 'scatter', name: 'B other', xAxisIndex: 1, yAxisIndex: 1, data: B_OTHER, symbol: 'circle', symbolSize: 9, z: 2, itemStyle: openCircle },
      { type: 'scatter', name: 'B fru', xAxisIndex: 1, yAxisIndex: 1, data: B_FRU, symbol: 'rect', symbolSize: 11, z: 3, itemStyle: { color: '#8a6e55' } },
      { type: 'scatter', name: 'B mmp', xAxisIndex: 1, yAxisIndex: 1, data: B_MMP, symbol: 'triangle', symbolSize: 12, z: 3, itemStyle: { color: '#6aa6a4' } },
      zeroLines(2),
      { type: 'scatter', name: 'C other', xAxisIndex: 2, yAxisIndex: 2, data: C_OTHER, symbol: 'circle', symbolSize: 9, z: 2, itemStyle: openCircle },
      { type: 'scatter', name: 'C dsr', xAxisIndex: 2, yAxisIndex: 2, data: C_DSR, symbol: 'triangle', symbolSize: 13, z: 3, itemStyle: { color: '#6aa6a4' } },
      ...dLines,
      {
        type: 'custom', xAxisIndex: 3, yAxisIndex: 3, data: errData, z: 6, silent: true,
        encode: { x: 0, y: [1, 2] },
        renderItem: (_p: any, api: any) => {
          const x = api.value(0);
          const top = api.coord([x, api.value(2)]);
          const bot = api.coord([x, api.value(1)]);
          const st = { stroke: '#000', lineWidth: 1 };
          return {
            type: 'group', children: [
              { type: 'line', shape: { x1: top[0], y1: top[1], x2: bot[0], y2: bot[1] }, style: st },
              { type: 'line', shape: { x1: top[0] - 1.8, y1: top[1], x2: top[0] + 1.8, y2: top[1] }, style: st },
              { type: 'line', shape: { x1: bot[0] - 1.8, y1: bot[1], x2: bot[0] + 1.8, y2: bot[1] }, style: st },
            ],
          };
        },
      },
    ],
  };
}

export default function App() {
  const ref = useRef<HTMLDivElement>(null);
  useEffect(() => {
    if (!ref.current) return;
    const chart = echarts.init(ref.current, null, { renderer: 'svg' });
    chart.setOption(buildOption() as any);
    return () => chart.dispose();
  }, []);
  return <div ref={ref} style={{ position: 'absolute', left: 0, top: 0, width: 719, height: 991, background: '#fff' }} />;
}
